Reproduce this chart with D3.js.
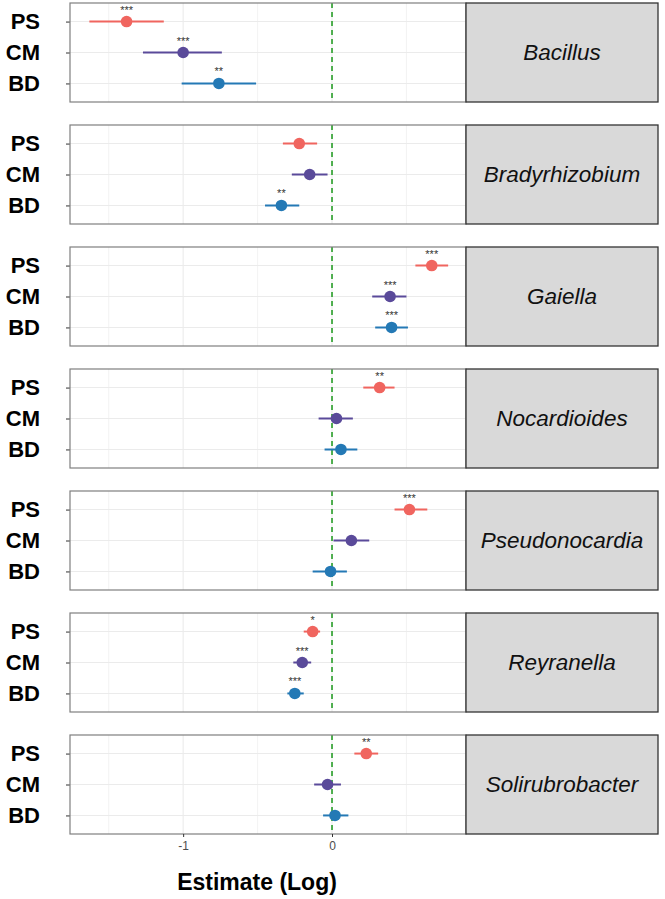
<!DOCTYPE html>
<html>
<head>
<meta charset="utf-8">
<script src="https://cdn.jsdelivr.net/npm/d3@7"></script>
<style>
  body { margin: 0; background: #fff; }
  svg { display: block; font-family: "Liberation Sans", Arial, sans-serif; }
</style>
</head>
<body>
<div id="chart"></div>
<script>
const genera = ["Bacillus", "Bradyrhizobium", "Gaiella", "Nocardioides", "Pseudonocardia", "Reyranella", "Solirubrobacter"];
const groups = ["PS", "CM", "BD"];
const groupColors = ["#f0655f", "#5a4a9a", "#2479b5"];

// estimate, lower and upper per group, one entry per genus
const psEst = [-1.38, -0.22, 0.67, 0.32, 0.52, -0.13, 0.23];
const psLow = [-1.63, -0.33, 0.56, 0.21, 0.42, -0.19, 0.15];
const psHigh = [-1.13, -0.10, 0.78, 0.42, 0.64, -0.08, 0.31];
const cmEst = [-1.00, -0.15, 0.39, 0.03, 0.13, -0.20, -0.03];
const cmLow = [-1.27, -0.27, 0.27, -0.09, 0.01, -0.26, -0.12];
const cmHigh = [-0.74, -0.03, 0.50, 0.14, 0.25, -0.14, 0.06];
const bdEst = [-0.76, -0.34, 0.40, 0.06, -0.01, -0.25, 0.02];
const bdLow = [-1.01, -0.45, 0.29, -0.05, -0.13, -0.30, -0.06];
const bdHigh = [-0.51, -0.22, 0.51, 0.17, 0.10, -0.19, 0.11];
const psStars = ["***", "", "***", "**", "***", "*", "**"];
const cmStars = ["***", "", "***", "", "", "***", ""];
const bdStars = ["**", "**", "***", "", "", "***", ""];

const xTicks = [-1, 0];
const xGrid = [-1.5, -1, -0.5, 0, 0.5];

const est = [psEst, cmEst, bdEst];
const low = [psLow, cmLow, bdLow];
const high = [psHigh, cmHigh, bdHigh];
const stars = [psStars, cmStars, bdStars];

const W = 665, H = 899;
const panelLeft = 70, panelRight = 466, stripRight = 658;
const panelH = 99, panelStep = 122, firstTop = 3;

const svg = d3.select("#chart").append("svg")
  .attr("width", W).attr("height", H);

const x = d3.scaleLinear().domain([-1.76, 0.9]).range([panelLeft, panelRight]);
const y = d3.scalePoint().domain(groups).range([0, panelH]).padding(0.6);

genera.forEach((gname, gi) => {
  const top = firstTop + gi * panelStep;
  const g = svg.append("g").attr("transform", `translate(0,${top})`);

  g.append("rect")
    .attr("x", panelLeft).attr("y", 0)
    .attr("width", panelRight - panelLeft).attr("height", panelH)
    .attr("fill", "#fff");

  // grid
  g.selectAll(".vgrid").data(xGrid).enter().append("line")
    .attr("x1", d => x(d)).attr("x2", d => x(d))
    .attr("y1", 0).attr("y2", panelH)
    .attr("stroke", "#ebebeb").attr("stroke-width", d => Number.isInteger(d) ? 1.1 : 0.6);
  g.selectAll(".hgrid").data(groups).enter().append("line")
    .attr("x1", panelLeft).attr("x2", panelRight)
    .attr("y1", d => y(d)).attr("y2", d => y(d))
    .attr("stroke", "#ebebeb").attr("stroke-width", 1.1);

  // zero line
  g.append("line")
    .attr("x1", x(0)).attr("x2", x(0)).attr("y1", 0).attr("y2", panelH)
    .attr("stroke", "#3fa83f").attr("stroke-width", 1.8)
    .attr("stroke-dasharray", "5,4");

  // y axis
  const ya = g.append("g").attr("transform", `translate(${panelLeft},0)`)
    .call(d3.axisLeft(y).tickSize(4).tickPadding(26));
  ya.select(".domain").remove();
  ya.selectAll(".tick line").attr("stroke", "#333");
  ya.selectAll(".tick text")
    .attr("fill", "#000").attr("font-size", 22).attr("font-weight", "bold");

  groups.forEach((grp, k) => {
    const cy = y(grp);
    g.append("line")
      .attr("x1", x(low[k][gi])).attr("x2", x(high[k][gi]))
      .attr("y1", cy).attr("y2", cy)
      .attr("stroke", groupColors[k]).attr("stroke-width", 2);
    g.append("circle")
      .attr("cx", x(est[k][gi])).attr("cy", cy).attr("r", 5.8)
      .attr("fill", groupColors[k]);
    if (stars[k][gi]) {
      g.append("text")
        .attr("x", x(est[k][gi])).attr("y", cy - 8)
        .attr("text-anchor", "middle")
        .attr("font-size", 11).attr("fill", "#333")
        .text(stars[k][gi]);
    }
  });

  // panel border
  g.append("rect")
    .attr("x", panelLeft).attr("y", 0)
    .attr("width", panelRight - panelLeft).attr("height", panelH)
    .attr("fill", "none").attr("stroke", "#7f7f7f").attr("stroke-width", 1.2);

  // strip
  g.append("rect")
    .attr("x", panelRight).attr("y", 0)
    .attr("width", stripRight - panelRight).attr("height", panelH)
    .attr("fill", "#d9d9d9").attr("stroke", "#333").attr("stroke-width", 1.3);
  g.append("text")
    .attr("x", (panelRight + stripRight) / 2).attr("y", panelH / 2)
    .attr("dy", "0.35em").attr("text-anchor", "middle")
    .attr("font-size", 22.5).attr("font-style", "italic").attr("fill", "#111")
    .text(gname);
});

// x axis below last panel
const bottom = firstTop + (genera.length - 1) * panelStep + panelH;
const xa = svg.append("g").attr("transform", `translate(0,${bottom})`)
  .call(d3.axisBottom(x).tickValues(xTicks).tickFormat(d => String(d)).tickSize(3).tickPadding(4));
xa.select(".domain").remove();
xa.selectAll(".tick line").attr("stroke", "#333");
xa.selectAll(".tick text").attr("fill", "#4d4d4d").attr("font-size", 12);

svg.append("text")
  .attr("x", 257).attr("y", 890)
  .attr("text-anchor", "middle")
  .attr("font-size", 23).attr("font-weight", "bold")
  .text("Estimate (Log)");
</script>
</body>
</html>
